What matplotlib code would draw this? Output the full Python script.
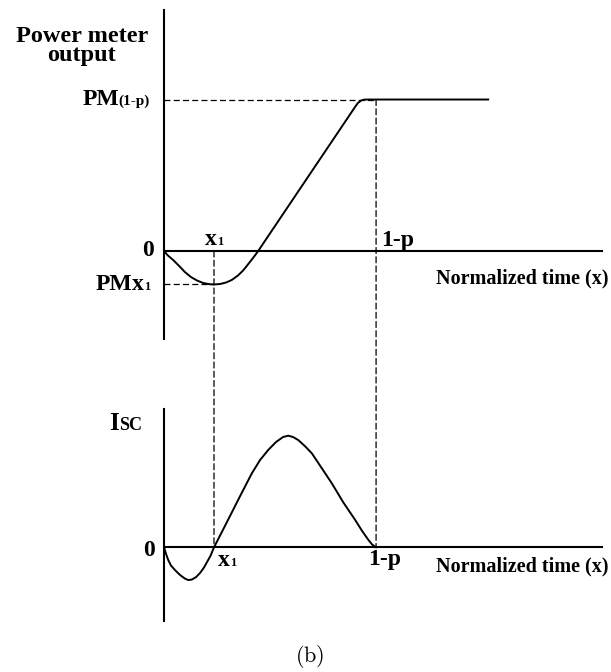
import matplotlib
matplotlib.use("Agg")
import matplotlib.pyplot as plt
from matplotlib.offsetbox import TextArea, HPacker, AnnotationBbox
from matplotlib.patches import ConnectionPatch

SERIF = "Liberation Serif"
PT = 0.72  # points per pixel at dpi=100

# normalized time; p = 0.3 so the plateau starts at 1 - p = 0.7
ONE_MINUS_P = 0.7
X1 = 0.165
PM_X1 = -0.22
PM_END = 1.0

# power meter output (relative to PM(1-p))
pm_t = [0.0, 0.013, 0.030, 0.050, 0.069, 0.089, 0.109, 0.129, 0.149, 0.165,
        0.185, 0.205, 0.224, 0.244, 0.261, 0.277, 0.294, 0.311, 0.333,
        0.631, 0.640, 0.650, 0.660, 0.673, 1.070]
pm_v = [0.0, -0.030, -0.059, -0.099, -0.139, -0.172, -0.195, -0.211, -0.219, -0.221,
        -0.218, -0.208, -0.191, -0.162, -0.129, -0.089, -0.046, 0.0, 0.066,
        0.952, 0.977, 0.993, 0.999, 1.0, 1.0]

# short-circuit current (relative to its peak)
isc_t = [0.0, 0.008, 0.014, 0.023, 0.036, 0.053, 0.069, 0.080, 0.092, 0.106,
         0.119, 0.132, 0.142, 0.154, 0.165, 0.191, 0.223, 0.254, 0.290, 0.317,
         0.344, 0.370, 0.393, 0.410, 0.426, 0.443, 0.465, 0.488, 0.518, 0.554,
         0.591, 0.631, 0.654, 0.675, 0.687, 0.700]
isc_v = [0.0, -0.069, -0.114, -0.163, -0.203, -0.248, -0.280, -0.293, -0.289, -0.266,
         -0.230, -0.181, -0.132, -0.073, 0.0, 0.137, 0.308, 0.474, 0.663, 0.782,
         0.872, 0.944, 0.988, 1.0, 0.988, 0.961, 0.907, 0.842, 0.720, 0.573,
         0.406, 0.245, 0.146, 0.065, 0.025, 0.0]

T_MAX = 1.449
W, H = 611, 672


def px_axes(fig, left, top, right, bottom):
    return fig.add_axes([left / W, 1 - bottom / H, (right - left) / W, (bottom - top) / H])


def style_axes(ax):
    for side in ("top", "right", "bottom"):
        ax.spines[side].set_visible(False)
    ax.spines["left"].set_linewidth(1.5)
    ax.set_xticks([])
    ax.set_yticks([])
    ax.set_xlim(0, T_MAX)
    ax.axhline(0, color="black", lw=1.5)


def label(fig, xy, coords, parts, off_px, align):
    boxes = [TextArea(s, textprops=dict(fontsize=fs, fontweight="bold", family=SERIF))
             for s, fs in parts]
    pack = HPacker(children=boxes, align="baseline", pad=0, sep=0)
    ab = AnnotationBbox(pack, xy, xycoords=coords,
                        xybox=(off_px[0] * PT, off_px[1] * PT), boxcoords="offset points",
                        box_alignment=align, frameon=False, pad=0, annotation_clip=False)
    fig.add_artist(ab)


def fig_text(fig, x, y, s, **kw):
    kw.setdefault("family", SERIF)
    kw.setdefault("fontweight", "bold")
    fig.text(x / W, 1 - y / H, s, **kw)


plt.rcParams["mathtext.fontset"] = "cm"
fig = plt.figure(figsize=(W / 100, H / 100), dpi=100)

dash = dict(color="black", lw=0.9, linestyle=(0, (4.8, 2.6)))

ax_pm = px_axes(fig, 164, 10, 603, 339)
style_axes(ax_pm)
ax_pm.set_ylim(-0.581, 1.591)
ax_pm.plot(pm_t, pm_v, color="black", lw=1.4)
ax_pm.plot([0, ONE_MINUS_P], [PM_END, PM_END], **dash)
ax_pm.plot([0, X1], [PM_X1, PM_X1], **dash)

ax_isc = px_axes(fig, 164, 409, 603, 621)
style_axes(ax_isc)
ax_isc.set_ylim(-0.660, 1.239)
ax_isc.plot(isc_t, isc_v, color="black", lw=1.4)

# guide lines running from the upper trace down to the lower one
for t, y0 in ((X1, 0.0), (ONE_MINUS_P, PM_END)):
    con = ConnectionPatch(xyA=(t, y0), coordsA=ax_pm.transData,
                          xyB=(t, 0.0), coordsB=ax_isc.transData, **dash)
    fig.add_artist(con)

BIG, SMALL, SUB = 17, 11, 9

# upper panel labels
fig_text(fig, 82, 42, "Power meter", fontsize=17.5, ha="center", va="baseline")
fig_text(fig, 82, 61, "output", fontsize=17.5, ha="center", va="baseline")
label(fig, (0, PM_END), ax_pm.transData, [("PM", BIG), ("(1-p)", SMALL)], (-14, 0), (1, 0.5))
label(fig, (0, 0), ax_pm.transData, [("0", BIG)], (-10, 0), (1, 0.5))
label(fig, (0, PM_X1), ax_pm.transData, [("PM", BIG), ("x", BIG), ("1", SUB)], (-14, 0), (1, 0.5))
label(fig, (X1, 0), ax_pm.transData, [("x", BIG), ("1", SUB)], (0, 1), (0.5, 0))
label(fig, (ONE_MINUS_P, 0), ax_pm.transData, [("1-p", BIG)], (5, 0), (0, 0))
fig_text(fig, 608, 283, "Normalized time (x)", fontsize=14.5, ha="right", va="baseline")

# lower panel labels
label(fig, (0, 0), ax_isc.transData, [("I", 18), ("SC", 13)], (-55, 112), (0, 0))
label(fig, (0, 0), ax_isc.transData, [("0", BIG)], (-9, -3), (1, 0.5))
label(fig, (X1, 0), ax_isc.transData, [("x", BIG), ("1", SUB)], (4, -3), (0, 1))
label(fig, (ONE_MINUS_P, 0), ax_isc.transData, [("1-p", BIG)], (-8, -2), (0, 1))
fig_text(fig, 608, 571, "Normalized time (x)", fontsize=14.5, ha="right", va="baseline")

fig_text(fig, 310, 657, r"$\mathrm{(b)}$", fontsize=16, ha="center", va="center",
         fontweight="normal")

fig.savefig("out.png", dpi=100)
